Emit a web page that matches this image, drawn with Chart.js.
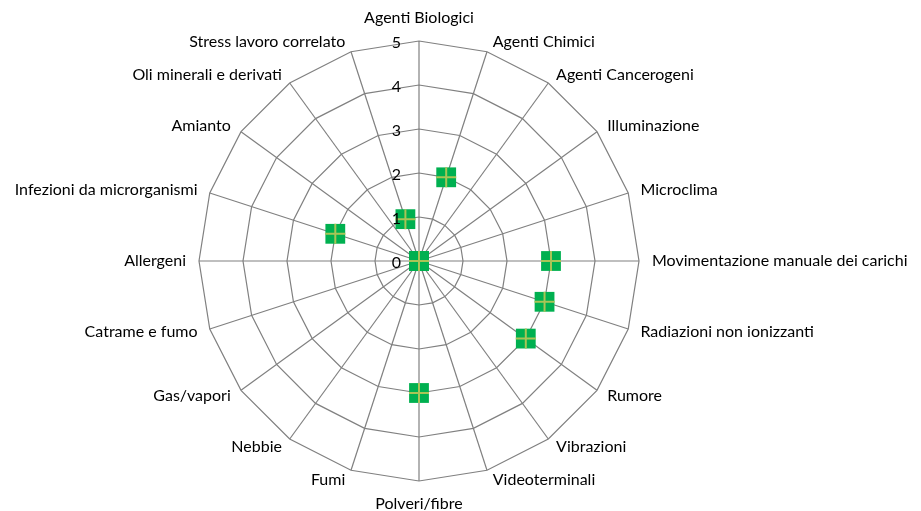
<!DOCTYPE html>
<html>
<head>
<meta charset="utf-8">
<script src="https://cdn.jsdelivr.net/npm/chart.js@4/dist/chart.umd.min.js"></script>
<style>
  html, body { margin: 0; padding: 0; background: #fff; }
  #wrap { width: 921px; height: 511px; position: relative; }
</style>
</head>
<body>
<div id="wrap"><canvas id="radarChart"></canvas></div>
<script>
const categories = [
    'Agenti Biologici', 'Agenti Chimici', 'Agenti Cancerogeni', 'Illuminazione',
    'Microclima', 'Movimentazione manuale dei carichi', 'Radiazioni non ionizzanti',
    'Rumore', 'Vibrazioni', 'Videoterminali', 'Polveri/fibre', 'Fumi', 'Nebbie',
    'Gas/vapori', 'Catrame e fumo', 'Allergeni', 'Infezioni da microrganismi',
    'Amianto', 'Oli minerali e derivati', 'Stress lavoro correlato'
];
const riskValues = [0, 2, 0, 0, 0, 3, 3, 3, 0, 0, 3, 0, 0, 0, 0, 0, 2, 0, 0, 1];
const tickValues = [0, 1, 2, 3, 4, 5];

const fontFamily = 'Lato, "Open Sans", sans-serif';

// Excel-style labels: category names beside each spoke tip, numbers left of the vertical axis
const excelLabels = {
    id: 'excelLabels',
    afterDatasetsDraw(chart) {
        const r = chart.scales.r;
        const ctx = chart.ctx;
        ctx.save();
        ctx.font = '16px ' + fontFamily;
        ctx.fillStyle = '#000';
        ctx.textBaseline = 'middle';

        ctx.textAlign = 'right';
        for (const v of tickValues) {
            const d = r.getDistanceFromCenterForValue(v);
            ctx.fillText(String(v), r.xCenter - 18, r.yCenter - d + 2);
        }

        categories.forEach((name, i) => {
            const p = r.getPointPosition(i, r.drawingArea);
            const a = r.getIndexAngle(i);
            const s = Math.sin(a), c = Math.cos(a);
            if (Math.abs(s) < 0.01) {
                ctx.textAlign = 'center';
                ctx.fillText(name, p.x, p.y - 23 * Math.sign(c));
            } else {
                ctx.textAlign = s > 0 ? 'left' : 'right';
                ctx.fillText(name, p.x + Math.sign(s) * (5 + 8 * s * s), p.y - 10 * c);
            }
        });
        ctx.restore();
    }
};

const ctx = document.getElementById('radarChart').getContext('2d');
const radarChart = new Chart(ctx, {
    type: 'radar',
    data: {
        labels: categories,
        datasets: [{
            label: 'Rischio',
            data: riskValues,
            showLine: false,
            fill: false,
            borderWidth: 0,
            backgroundColor: 'rgba(0,0,0,0)',
            pointStyle: 'rect',
            pointRadius: 14,
            pointBackgroundColor: '#00B050',
            pointBorderWidth: 0,
            order: 1
        }, {
            label: 'Rischio marker',
            data: riskValues,
            showLine: false,
            fill: false,
            borderWidth: 0,
            backgroundColor: 'rgba(0,0,0,0)',
            pointStyle: 'cross',
            pointRadius: 10,
            pointBorderColor: '#A9C456',
            pointBorderWidth: 2,
            order: 0
        }]
    },
    options: {
        responsive: true,
        maintainAspectRatio: false,
        animation: false,
        events: [],
        // web sits left of centre, the long right-hand label needs the room
        layout: { padding: { top: 41, bottom: 29, left: 199, right: 281 } },
        plugins: {
            legend: { display: false },
            tooltip: { enabled: false }
        },
        scales: {
            r: {
                min: 0,
                max: 5,
                ticks: { stepSize: 1, display: false },
                grid: { color: '#808080', lineWidth: 1.2 },
                angleLines: { color: '#808080', lineWidth: 1.2 },
                pointLabels: { display: false }
            }
        }
    },
    plugins: [excelLabels]
});
</script>
</body>
</html>
